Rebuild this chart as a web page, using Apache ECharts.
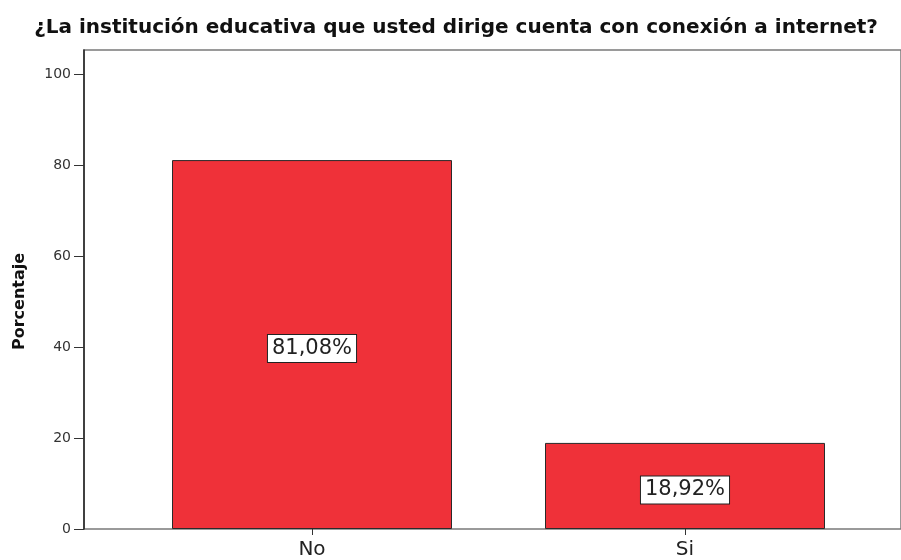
<!DOCTYPE html>
<html>
<head>
<meta charset="utf-8">
<script src="https://cdn.jsdelivr.net/npm/echarts@6/dist/echarts.min.js"></script>
<style>
    html, body { margin: 0; padding: 0; background: #fff; }
    #chart { width: 901px; height: 560px; }
</style>
</head>
<body>
<div id="chart"></div>
<script>
// datos del grafico
const categories = ['No', 'Si']
const percentages = [81.08, 18.92]
const barLabels = ['81,08%', '18,92%']
const titleText = '¿La institución educativa que usted dirige cuenta con conexión a internet?'
const yName = 'Porcentaje'

let myChart = echarts.init(document.getElementById('chart'))
let option = {
    animation: false,
    title: {
        text: titleText,
        left: 451,
        textAlign: 'center',
        top: 13,
        textStyle: { fontFamily: 'DejaVu Sans', fontWeight: 'bold', fontSize: 20, color: '#111' }
    },
    grid: [
        // marco
        { show: true, left: 84, top: 50, right: -12, bottom: 31, borderColor: '#7a7a7a', borderWidth: 1.5, backgroundColor: 'transparent' },
        // barras
        { left: 125.5, right: 29.5, top: 74, bottom: 31 }
    ],
    xAxis: [
        { gridIndex: 0, type: 'value', show: false },
        {
            gridIndex: 1,
            type: 'category',
            data: categories,
            axisLine: { show: false },
            axisTick: { show: true, alignWithLabel: true, length: 6, lineStyle: { color: '#333' } },
            axisLabel: { margin: 11, fontFamily: 'DejaVu Sans', fontSize: 20, color: '#222' }
        }
    ],
    yAxis: [
        {
            gridIndex: 0, type: 'value',
            axisLine: { show: true, lineStyle: { color: '#222', width: 1.5 } },
            axisTick: { show: false }, axisLabel: { show: false }, splitLine: { show: false }
        },
        {
            gridIndex: 1,
            type: 'value',
            min: 0,
            max: 100,
            interval: 20,
            offset: 41.5,
            name: yName,
            nameLocation: 'middle',
            nameGap: 56,
            nameMoveOverlap: false,
            nameRotate: 90,
            nameTextStyle: { fontFamily: 'DejaVu Sans', fontWeight: 'bold', fontSize: 16, color: '#111' },
            axisLine: { show: false },
            axisTick: { show: true, length: 10, lineStyle: { color: '#333' } },
            splitLine: { show: false },
            axisLabel: { margin: 13, fontFamily: 'DejaVu Sans', fontSize: 14, color: '#333' }
        }
    ],
    series: [
        {
            type: 'bar',
            xAxisIndex: 1,
            yAxisIndex: 1,
            data: percentages,
            barWidth: 280,
            itemStyle: { color: '#EF3139', borderColor: '#2a2a2a', borderWidth: 1 },
            label: {
                show: true,
                position: 'inside',
                offset: [0, 4],
                formatter: function (p) { return barLabels[p.dataIndex] },
                fontFamily: 'DejaVu Sans',
                fontSize: 21,
                color: '#222',
                backgroundColor: '#fff',
                borderColor: '#222',
                borderWidth: 1,
                padding: [4, 4, 2, 4]
            }
        }
    ]
}
myChart.setOption(option)
</script>
</body>
</html>
